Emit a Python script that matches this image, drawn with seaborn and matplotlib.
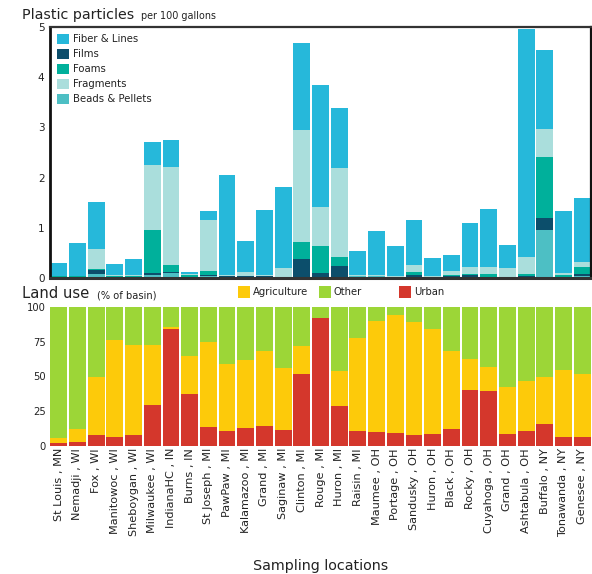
import matplotlib
matplotlib.use("Agg")
import matplotlib.pyplot as plt
from matplotlib.patches import Patch, Rectangle
import numpy as np
import seaborn as sns

locations = ["St Louis , MN", "Nemadji , WI", "Fox , WI", "Manitowoc , WI",
             "Sheboygan , WI", "Milwaukee , WI", "IndianaHC , IN", "Burns , IN",
             "St Joseph , MI", "PawPaw , MI", "Kalamazoo , MI", "Grand , MI",
             "Saginaw , MI", "Clinton , MI", "Rouge , MI", "Huron , MI",
             "Raisin , MI", "Maumee , OH", "Portage , OH", "Sandusky , OH",
             "Huron , OH", "Black , OH", "Rocky , OH", "Cuyahoga , OH",
             "Grand , OH", "Ashtabula , OH", "Buffalo , NY", "Tonawanda , NY",
             "Genesee , NY"]

# Plastic particles per 100 gallons, by particle type
beads = [0.01, 0.02, 0.07, 0.02, 0.00, 0.06, 0.10, 0.00, 0.03, 0.00,
         0.01, 0.01, 0.00, 0.02, 0.02, 0.02, 0.03, 0.03, 0.01, 0.02,
         0.02, 0.02, 0.00, 0.01, 0.00, 0.00, 0.96, 0.00, 0.04]
films = [0.01, 0.00, 0.09, 0.00, 0.02, 0.04, 0.02, 0.01, 0.03, 0.03,
         0.03, 0.02, 0.02, 0.36, 0.08, 0.22, 0.00, 0.00, 0.01, 0.04,
         0.00, 0.01, 0.06, 0.00, 0.02, 0.04, 0.24, 0.02, 0.04]
foams = [0.02, 0.02, 0.02, 0.01, 0.01, 0.86, 0.14, 0.05, 0.08, 0.00,
         0.00, 0.00, 0.00, 0.34, 0.54, 0.18, 0.00, 0.00, 0.00, 0.06,
         0.00, 0.02, 0.02, 0.07, 0.00, 0.04, 1.22, 0.04, 0.14]
fragments = [0.00, 0.00, 0.40, 0.02, 0.02, 1.30, 1.96, 0.01, 1.02, 0.03,
             0.08, 0.03, 0.18, 2.22, 0.78, 1.78, 0.03, 0.03, 0.02, 0.14,
             0.02, 0.09, 0.14, 0.14, 0.18, 0.34, 0.54, 0.04, 0.10]
fibers = [0.26, 0.66, 0.94, 0.23, 0.33, 0.44, 0.52, 0.05, 0.18, 2.00,
          0.62, 1.30, 1.62, 1.74, 2.42, 1.18, 0.48, 0.88, 0.60, 0.90,
          0.36, 0.32, 0.88, 1.16, 0.46, 4.54, 1.58, 1.24, 1.28]

# Land use, % of basin
urban = [2, 3, 8, 6.5, 8, 29.6, 84, 37.6, 13.7, 11,
         13, 14.5, 11.6, 52, 92, 29, 11, 10, 9.4, 8,
         8.7, 12.3, 40.5, 39.8, 8.7, 10.8, 15.9, 6.5, 6.5]
agriculture = [4, 9, 42, 70, 65, 43.4, 1.5, 27.4, 60.8, 48.3,
               49.2, 54.2, 44.8, 20.3, 0, 25.2, 67, 79.6, 84.6, 80.9,
               75.2, 56.4, 22.4, 17.3, 34, 36.2, 34, 48.5, 45.5]
other = [94, 88, 50, 23.5, 27, 27, 14.5, 35, 25.5, 40.7,
         37.8, 31.3, 43.6, 27.7, 8, 45.8, 22, 10.4, 6, 11.1,
         16.1, 31.3, 37.1, 42.9, 57.3, 53, 50.1, 45, 48]

colors = {"Beads & Pellets": "#4dbfc4", "Films": "#0c4e6b", "Foams": "#00b09b",
          "Fragments": "#aadedc", "Fiber & Lines": "#26b8da",
          "Urban": "#d4372c", "Agriculture": "#fdca0a", "Other": "#9cd637"}

# stacking order, bottom to top
particle_types = [("Beads & Pellets", beads), ("Films", films),
                  ("Foams", foams), ("Fragments", fragments),
                  ("Fiber & Lines", fibers)]
land_types = [("Urban", urban), ("Agriculture", agriculture), ("Other", other)]
particle_key = ["Fiber & Lines", "Films", "Foams", "Fragments", "Beads & Pellets"]

sns.set_theme(style="white")
plt.rcParams["font.family"] = ["DejaVu Sans"]
TXT = "#222222"

W, H = 592, 574
fig = plt.figure(figsize=(W / 100, H / 100), dpi=100)
ax_top = fig.add_axes([50 / W, 1 - 278 / H, 541 / W, 251 / H])
ax_bot = fig.add_axes([50 / W, 1 - 446 / H, 541 / W, 139 / H])


def stacked(ax, layers):
    cum = np.zeros(len(locations))
    tops = []
    for name, vals in layers:
        cum = cum + np.asarray(vals, dtype=float)
        tops.append((cum.copy(), colors[name]))
    # tallest cumulative layer first, lower layers painted over it
    for heights, color in reversed(tops):
        sns.barplot(x=locations, y=heights, order=locations, color=color,
                    saturation=1, width=0.9, linewidth=0, errorbar=None, ax=ax)


stacked(ax_top, particle_types)
stacked(ax_bot, land_types)

# upper panel
ax_top.set_xlim(-0.47, 28.47)
ax_top.set_ylim(0, 5)
ax_top.set_yticks([0, 1, 2, 3, 4, 5])
ax_top.set_xticks([])
ax_top.set_xlabel("")
ax_top.tick_params(axis="y", length=0, pad=4, labelsize=7.5, labelcolor=TXT)
for side, lw, col in [("left", 2.0, "#111111"), ("bottom", 2.2, "#333333"),
                      ("top", 1.6, "#333333"), ("right", 1.6, "#111111")]:
    ax_top.spines[side].set_visible(True)
    ax_top.spines[side].set_linewidth(lw)
    ax_top.spines[side].set_color(col)

handles = [Patch(facecolor=colors[n], edgecolor="none", label=n)
           for n in particle_key]
leg = ax_top.legend(handles=handles, loc="upper left", frameon=False,
                    fontsize=7.3, handlelength=1.25, handleheight=1.25,
                    handletextpad=0.35, labelspacing=0.42,
                    borderaxespad=0.0, bbox_to_anchor=(0.005, 0.99))
for t in leg.get_texts():
    t.set_color(TXT)

# lower panel
ax_bot.set_xlim(-0.47, 28.47)
ax_bot.set_ylim(0, 100)
ax_bot.set_yticks([0, 25, 50, 75, 100])
ax_bot.set_xticks(range(len(locations)))
ax_bot.set_xticklabels(locations, rotation=90, fontsize=8.1, color=TXT)
ax_bot.set_xlabel("")
ax_bot.tick_params(axis="y", length=0, pad=3, labelsize=7.2, labelcolor=TXT)
ax_bot.tick_params(axis="x", length=0, pad=1.5)
for s in ax_bot.spines.values():
    s.set_visible(False)

# titles
fig.text(22 / W, 1 - 19 / H, "Plastic particles", fontsize=10.3, color=TXT,
         va="baseline", ha="left")
fig.text(141 / W, 1 - 19 / H, "per 100 gallons", fontsize=6.9, color=TXT,
         va="baseline", ha="left")
fig.text(22 / W, 1 - 298 / H, "Land use", fontsize=10.6, color=TXT,
         va="baseline", ha="left")
fig.text(97 / W, 1 - 298 / H, "(% of basin)", fontsize=7.1, color=TXT,
         va="baseline", ha="left")

# land use key
for name, x0 in [("Agriculture", 238), ("Other", 319), ("Urban", 399)]:
    fig.patches.append(Rectangle((x0 / W, 1 - 297.5 / H), 11.5 / W, 11.5 / H,
                                 transform=fig.transFigure,
                                 facecolor=colors[name], edgecolor="none"))
    fig.text((x0 + 15) / W, 1 - 292 / H, name, fontsize=7.2, color=TXT,
             va="center", ha="left")

fig.text(320.5 / W, 1 - 566 / H, "Sampling locations", fontsize=10.3,
         color=TXT, ha="center", va="center")

fig.savefig("out.png", dpi=100, facecolor="white")
